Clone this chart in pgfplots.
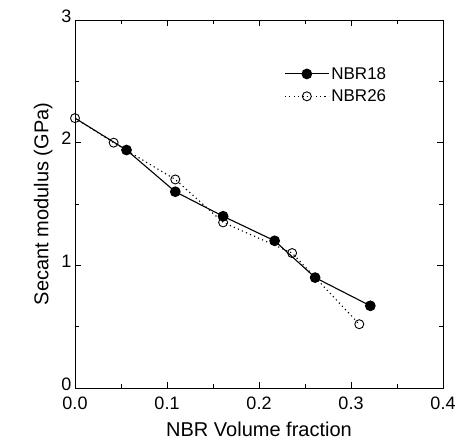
\documentclass[border=0pt]{standalone}
\usepackage{pgfplots}
\pgfplotsset{compat=1.18}
\usepackage{fontspec}
\setmainfont{Liberation Sans}

\begin{document}
\begin{tikzpicture}
  \useasboundingbox (0,0) rectangle (457pt,446pt);
  \begin{axis}[
      at={(75pt,58pt)}, anchor=south west,
      scale only axis,
      width=368pt, height=368pt,
      xmin=0, xmax=0.4, ymin=0, ymax=3,
      xtick={0,0.1,0.2,0.3,0.4},
      ytick={0,1,2,3},
      minor x tick num=1, minor y tick num=1,
      tick align=inside,
      major tick length=6pt, minor tick length=4pt,
      /pgf/number format/assume math mode=true,
      tick label style={font=\fontsize{18}{20}\selectfont},
      xticklabel style={/pgf/number format/fixed,
                        /pgf/number format/fixed zerofill,
                        /pgf/number format/precision=1,
                        yshift=-5pt},
      yticklabel style={yshift=4pt},
      label style={font=\fontsize{20}{22}\selectfont},
      xlabel={NBR Volume fraction},
      ylabel={Secant modulus (GPa)},
      xlabel style={yshift=-6pt},
      ylabel style={yshift=2pt},
      axis line style={line width=0.9pt},
      every tick/.style={line width=0.8pt, black},
      legend style={draw=none, fill=none, font=\fontsize{17}{19}\selectfont,
                    at={(rel axis cs:0.56,0.883)}, anchor=north west,
                    row sep=5pt},
      legend cell align=left,
      legend image code/.code={%
        \draw[#1, mark indices={2}]
          plot coordinates {(0pt,0pt) (22pt,0pt) (44pt,0pt)};},
    ]
    % NBR18 (filled)
    \addplot[black, line width=1.1pt, mark=*, mark size=4.8pt,
             mark indices={2,3,4,5,6,7}]
      coordinates {(0,2.2) (0.056,1.94) (0.109,1.60) (0.161,1.40)
                   (0.217,1.20) (0.261,0.90) (0.321,0.67)};
    \addlegendentry{NBR18}
    % NBR26 (open)
    \addplot[black, line width=1.1pt, dash pattern=on 1.2pt off 3.2pt,
             mark=o, mark size=4.5pt,
             mark options={solid, fill=white, line width=0.9pt}]
      coordinates {(0,2.2) (0.042,2.0) (0.109,1.70) (0.161,1.35)
                   (0.236,1.10) (0.309,0.52)};
    \addlegendentry{NBR26}
  \end{axis}
\end{tikzpicture}
\end{document}
